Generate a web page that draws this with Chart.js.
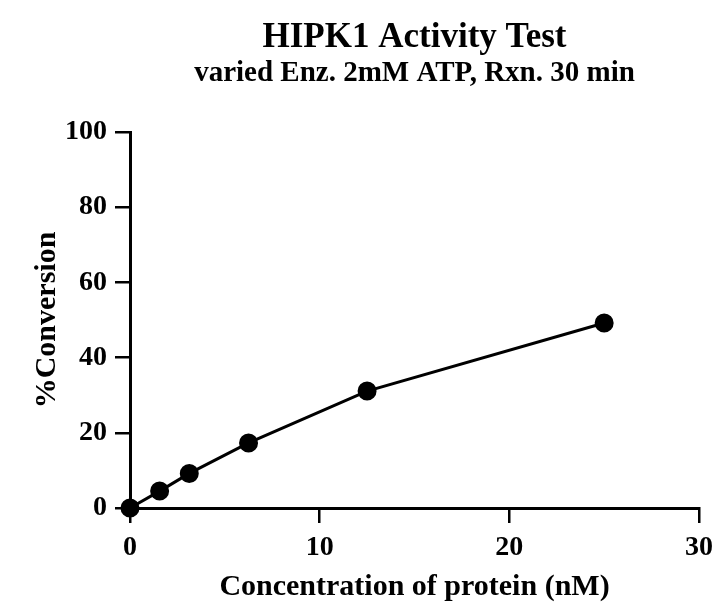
<!DOCTYPE html>
<html>
<head>
<meta charset="utf-8">
<script src="https://cdn.jsdelivr.net/npm/chart.js@4"></script>
<style>
  html, body { margin: 0; padding: 0; background: #fff; }
  #wrap { width: 719px; height: 609px; }
</style>
</head>
<body>
<div id="wrap"><canvas id="chart" width="719" height="609"></canvas></div>
<script>
// Data
const concentrations = [0, 1.5625, 3.125, 6.25, 12.5, 25];
const conversions = [0, 4.5, 9.2, 17.3, 31.1, 49.2];
const yTicks = [0, 20, 40, 60, 80, 100];
const xTicks = [0, 10, 20, 30];

const serif = "'Liberation Serif', 'Times New Roman', serif";
const ink = '#000000';

const points = concentrations.map(function(x, i) {
    return { x: x, y: conversions[i] };
});

new Chart(document.getElementById('chart'), {
    type: 'scatter',
    data: {
        datasets: [{
            label: '%Conversion',
            data: points,
            showLine: true,
            clip: false,
            borderColor: ink,
            backgroundColor: ink,
            borderWidth: 3,
            pointRadius: 8,
            pointHoverRadius: 8,
            tension: 0
        }]
    },
    options: {
        responsive: false,
        animation: false,
        layout: { padding: { top: 0, right: 20, bottom: 0, left: 0 } },
        plugins: {
            legend: { display: false },
            tooltip: { enabled: false },
            title: {
                display: true,
                text: 'HIPK1 Activity Test',
                fullSize: false,
                color: ink,
                font: { family: serif, size: 35, weight: 'bold', lineHeight: 1.2 },
                padding: { top: 17, bottom: 0 }
            },
            subtitle: {
                display: true,
                text: 'varied Enz. 2mM ATP, Rxn. 30 min',
                fullSize: false,
                color: ink,
                font: { family: serif, size: 29, weight: 'bold', lineHeight: 1.0 },
                padding: { top: 0, bottom: 44 }
            }
        },
        scales: {
            x: {
                type: 'linear',
                min: 0,
                max: 30,
                afterBuildTicks: function(scale) {
                    scale.ticks = xTicks.map(function(v) { return { value: v }; });
                },
                afterFit: function(scale) {
                    scale.height = 101;
                    scale.paddingRight = 0;
                },
                grid: { display: true, drawOnChartArea: false, color: ink, tickLength: 15, lineWidth: 2.5 },
                border: { display: true, color: ink, width: 3 },
                ticks: { color: ink, font: { family: serif, size: 28, weight: 'bold' }, padding: 8, maxRotation: 0 },
                title: {
                    display: true,
                    text: 'Concentration of protein (nM)',
                    color: ink,
                    font: { family: serif, size: 30, weight: 'bold' },
                    padding: { top: 0, bottom: 4 }
                }
            },
            y: {
                type: 'linear',
                min: 0,
                max: 100,
                afterBuildTicks: function(scale) {
                    scale.ticks = yTicks.map(function(v) { return { value: v }; });
                },
                afterFit: function(scale) { scale.width = 130; },
                grid: { display: true, drawOnChartArea: false, color: ink, tickLength: 15, lineWidth: 2.5 },
                border: { display: true, color: ink, width: 3 },
                ticks: { color: ink, font: { family: serif, size: 28, weight: 'bold' }, padding: 8 },
                title: {
                    display: true,
                    text: '%Conversion',
                    color: ink,
                    font: { family: serif, size: 30, weight: 'bold' },
                    padding: { top: 29, bottom: 0 }
                }
            }
        }
    }
});
</script>
</body>
</html>
